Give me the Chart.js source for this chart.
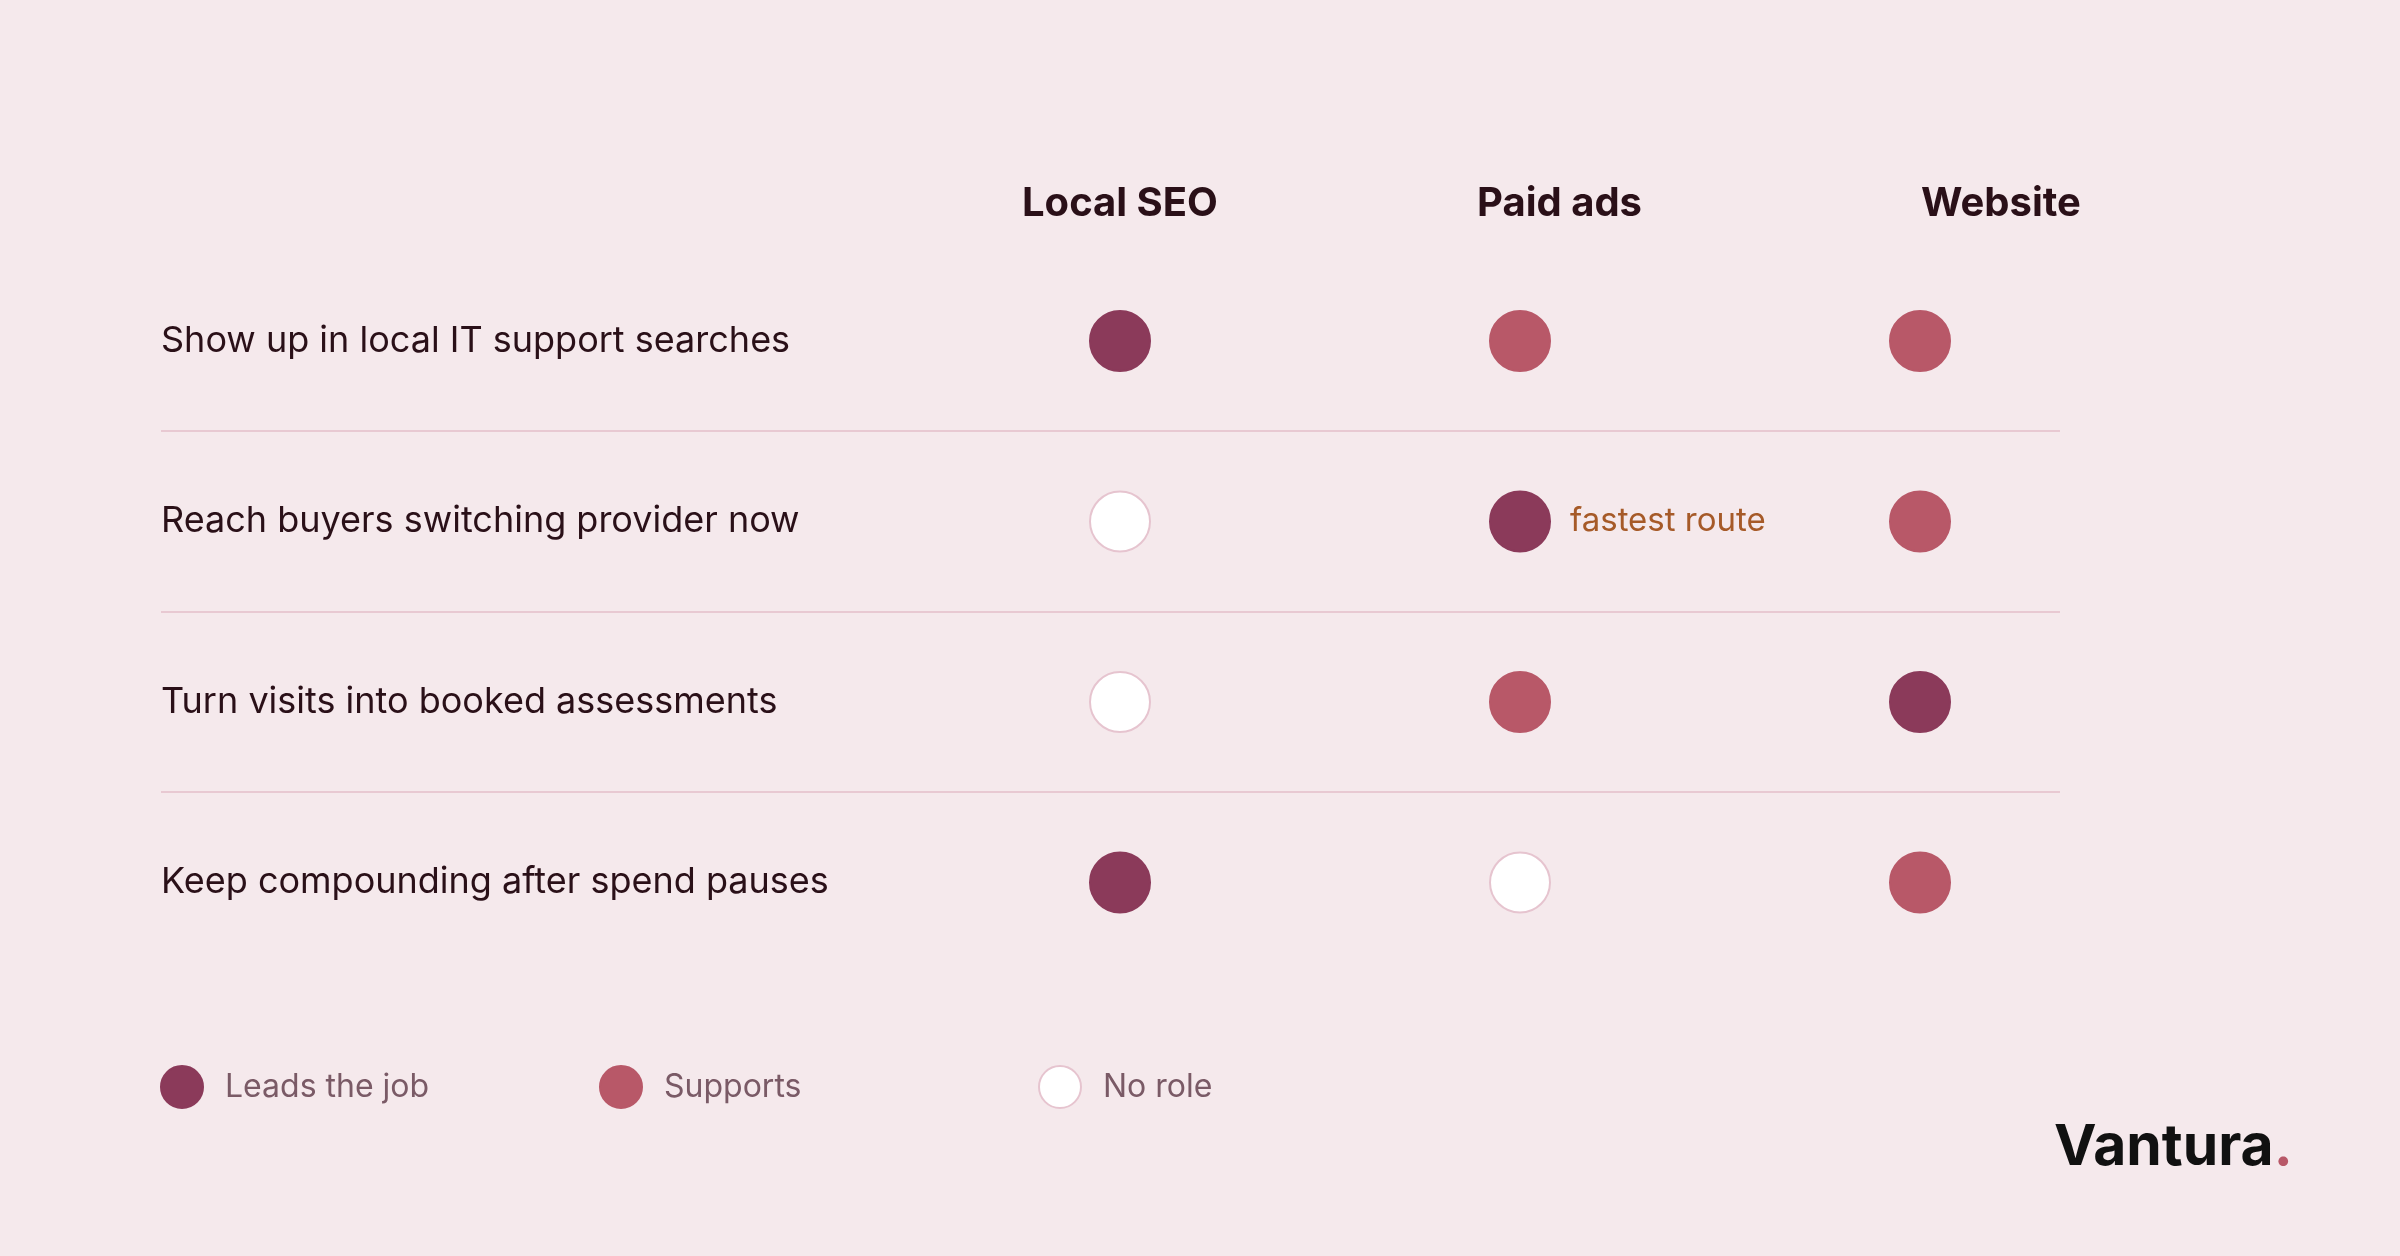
<!DOCTYPE html>
<html>
<head>
<meta charset="utf-8">
<script src="https://cdn.jsdelivr.net/npm/chart.js@4"></script>
<style>
  html, body { margin: 0; padding: 0; background: #f5e9ec; }
  #wrap { width: 2400px; height: 1256px; position: relative; }
</style>
</head>
<body>
<div id="wrap"><canvas id="matrix"></canvas></div>
<script>
// Data: jobs (rows), channels (columns), role per cell
const jobs = [
  'Show up in local IT support searches',
  'Reach buyers switching provider now',
  'Turn visits into booked assessments',
  'Keep compounding after spend pauses',
];
const channels = ['Local SEO', 'Paid ads', 'Website'];
// 2 = leads the job, 1 = supports, 0 = no role
const localSeo = [2, 0, 0, 2];
const paidAds = [1, 2, 1, 0];
const website = [1, 1, 2, 1];
const roleNames = ['No role', 'Supports', 'Leads the job'];
const legendOrder = [2, 1, 0];

const fill = ['#ffffff', '#b85868', '#8b3a5a'];
const edge = ['#e6c4cf', '#b85868', '#8b3a5a'];

const columns = [localSeo, paidAds, website];
const points = [];
columns.forEach((col, ci) => {
  col.forEach((role, ri) => points.push({ x: ci, y: ri, role }));
});

const FONT = 'Inter, "Noto Sans", sans-serif';

const decor = {
  id: 'decor',
  beforeDatasetsDraw(chart) {
    const { ctx, scales: { x, y } } = chart;
    ctx.save();
    // dividers
    ctx.strokeStyle = '#e8c9d2';
    ctx.lineWidth = 2;
    for (let i = 0; i < jobs.length - 1; i++) {
      const py = Math.round((y.getPixelForValue(i) + y.getPixelForValue(i + 1)) / 2);
      ctx.beginPath();
      ctx.moveTo(161, py);
      ctx.lineTo(2060, py);
      ctx.stroke();
    }
    // row labels
    ctx.fillStyle = '#2a1018';
    ctx.font = '36px ' + FONT;
    ctx.textBaseline = 'middle';
    ctx.textAlign = 'left';
    jobs.forEach((j, i) => ctx.fillText(j, 161, y.getPixelForValue(i)));
    // headers
    ctx.font = 'bold 40px ' + FONT;
    ctx.fillText(channels[0], 1022, 204);
    ctx.fillText(channels[1], 1477, 204);
    ctx.fillText(channels[2], 1921, 204);
    // annotation
    ctx.fillStyle = '#a65a28';
    ctx.font = '33px ' + FONT;
    ctx.fillText('fastest route', x.getPixelForValue(1) + 50, y.getPixelForValue(1));
    // legend
    legendOrder.forEach((r, k) => {
      const cx = 182 + k * 439, cy = 1087;
      ctx.beginPath();
      ctx.arc(cx, cy, 21, 0, Math.PI * 2);
      ctx.fillStyle = fill[r];
      ctx.fill();
      ctx.strokeStyle = edge[r];
      ctx.lineWidth = 2;
      ctx.stroke();
      ctx.fillStyle = '#7a5a66';
      ctx.font = '32px ' + FONT;
      ctx.fillText(roleNames[r], cx + 43, cy);
    });
    // brand
    ctx.fillStyle = '#111111';
    ctx.font = 'bold 57px ' + FONT;
    ctx.textAlign = 'left';
    ctx.fillText('Vantura', 2054, 1148);
    const w = ctx.measureText('Vantura').width;
    ctx.fillStyle = '#b85868';
    ctx.fillText('.', 2054 + w, 1148);
    ctx.restore();
  }
};

new Chart(document.getElementById('matrix'), {
  type: 'scatter',
  data: {
    datasets: [{
      data: points,
      pointRadius: 30,
      pointHoverRadius: 30,
      pointBorderWidth: 2,
      pointBackgroundColor: points.map(p => fill[p.role]),
      pointBorderColor: points.map(p => edge[p.role]),
    }],
  },
  options: {
    responsive: true,
    maintainAspectRatio: false,
    animation: false,
    layout: { padding: 0, autoPadding: false },
    plugins: { legend: { display: false }, tooltip: { enabled: false } },
    scales: {
      x: { type: 'linear', min: -2.8, max: 3.2, display: false },
      y: { type: 'linear', reverse: true, min: -341 / 180.5, max: (1256 - 341) / 180.5, display: false },
    },
  },
  plugins: [decor],
});
</script>
</body>
</html>
